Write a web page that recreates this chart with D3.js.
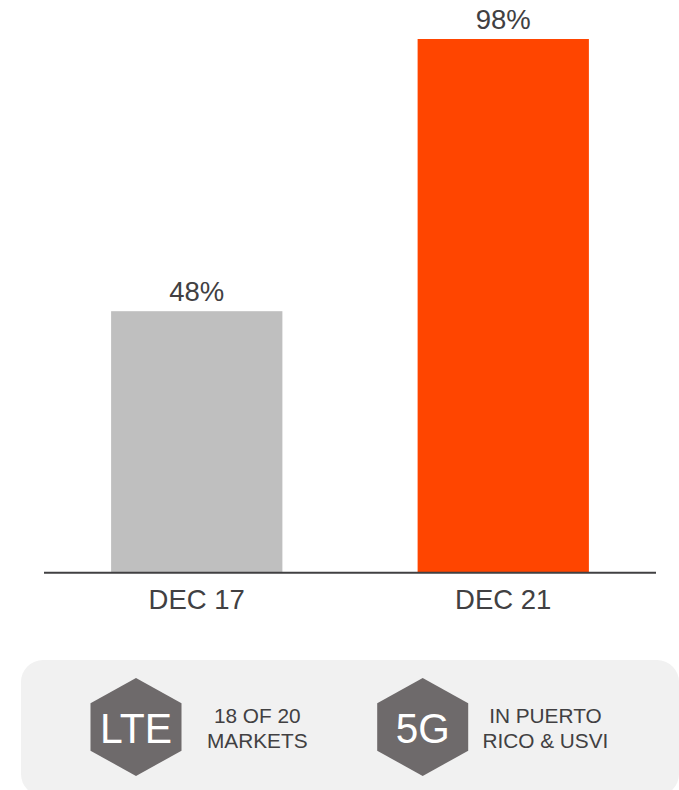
<!DOCTYPE html>
<html><head><meta charset="utf-8">
<script src="https://d3js.org/d3.v7.min.js"></script>
<style>html,body{margin:0;padding:0;background:#fff}svg{display:block}text{font-family:"Liberation Sans",Arial,sans-serif}</style>
</head><body><svg id="c" width="679" height="790"></svg>
<script>
const categories=["DEC 17","DEC 21"];
const values=[48,98];
const barColors=["#bfbfbf","#ff4500"];
const badges=["LTE","5G"];
const badgeLine1=["18 OF 20","IN PUERTO"];
const badgeLine2=["MARKETS","RICO & USVI"];
const svg=d3.select("#c");
const ink="#414042";
const x=d3.scaleBand().domain(categories).range([44,656]).paddingInner(135/306).paddingOuter(67/306);
const y=d3.scaleLinear().domain([0,98]).range([572.5,39]);
svg.selectAll("rect.bar").data(values).join("rect").attr("class","bar")
 .attr("x",(d,i)=>x(categories[i])).attr("width",x.bandwidth())
 .attr("y",d=>y(d)).attr("height",d=>y(0)-y(d)).attr("fill",(d,i)=>barColors[i]);
svg.selectAll("text.val").data(values).join("text").attr("class","val")
 .attr("x",(d,i)=>x(categories[i])+x.bandwidth()/2).attr("y",d=>y(d)-10)
 .attr("text-anchor","middle").attr("font-size",27.5).attr("fill",ink).text(d=>d+"%");
svg.append("line").attr("x1",44).attr("x2",656).attr("y1",572.8).attr("y2",572.8).attr("stroke",ink).attr("stroke-width",2);
svg.selectAll("text.cat").data(categories).join("text").attr("class","cat")
 .attr("x",d=>x(d)+x.bandwidth()/2).attr("y",609).attr("text-anchor","middle").attr("font-size",27.5).attr("fill",ink).text(d=>d);
svg.append("rect").attr("x",21).attr("y",660).attr("width",658).attr("height",136).attr("rx",22).attr("fill","#f1f1f1");
const bx=d3.scalePoint().domain(badges).range([136,422.7]);
const hw=45.5,hh=49,sh=23.7;
const hex=d3.line()([[0,-hh],[hw,-sh],[hw,sh],[0,hh],[-hw,sh],[-hw,-sh]])+"Z";
const tx=[257.3,545.4];
const bw=[72,54];
badges.forEach((b,i)=>{
 const g=svg.append("g").attr("transform",`translate(${bx(b)},727)`);
 g.append("path").attr("d",hex).attr("fill","#6e6a6b");
 g.append("text").attr("text-anchor","middle").attr("y",15.5).attr("font-size",43).attr("fill","#fff")
  .attr("textLength",bw[i]).attr("lengthAdjust","spacingAndGlyphs").text(b);
 svg.append("text").attr("x",tx[i]).attr("y",723.3).attr("text-anchor","middle").attr("font-size",20.8).attr("fill",ink).text(badgeLine1[i]);
 svg.append("text").attr("x",tx[i]).attr("y",747.7).attr("text-anchor","middle").attr("font-size",20.8).attr("fill",ink).text(badgeLine2[i]);
});
</script></body></html>
